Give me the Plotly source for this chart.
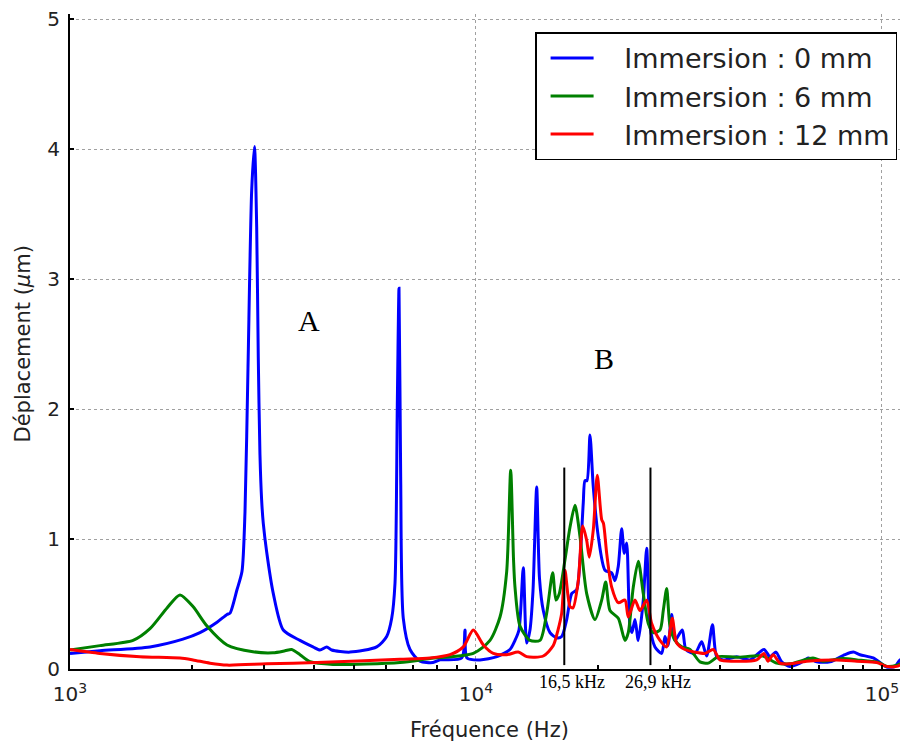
import math
import plotly.graph_objects as go

# ---------------- data (frequency in Hz, displacement in µm) ----------------
f_blue = [1000, 1185, 1574, 1898, 2090, 2302, 2436, 2478, 2578, 2652, 2698, 2744,
          2802, 2847, 2883, 2909, 2937, 2965, 2993, 3051, 3168, 3352, 3685, 3967, 4128,
          4288, 4412, 4894, 5694, 6026, 6200, 6317, 6400, 6462, 6524, 6621, 6878,
          7279, 7836, 8154, 9221, 9395, 9502, 10229, 11265, 12126, 12476, 12761,
          13077, 13331, 13583, 13816, 14109, 14335, 14647, 15215, 15804, 16259,
          16726, 17207, 17702, 18036, 18377, 18555, 18767, 19089, 19450, 20009,
          20783, 21588, 21996, 22412, 22848, 23188, 23505, 23950, 24223, 24639,
          25104, 25826, 26329, 26826, 27598, 28667, 29208, 29710, 30340, 30913,
          32220, 32903, 34626, 35967, 37002, 38239, 39161, 40654, 43866, 47300,
          51209, 52982, 54815, 56616, 59346, 62808, 65836, 69048, 74456, 81072,
          84979, 88270, 95182, 98871, 102702, 107652, 110747, 115889]
d_blue = [0.12, 0.14, 0.17, 0.23, 0.28, 0.36, 0.42, 0.43, 0.61, 0.75, 1.21, 2.31,
          3.68, 4.02, 3.40, 2.40, 1.65, 1.30, 1.12, 0.90, 0.58, 0.30, 0.22, 0.17, 0.146,
          0.17, 0.146, 0.13, 0.17, 0.25, 0.39, 0.66, 2.03, 2.93, 1.48, 0.39, 0.15,
          0.06, 0.05, 0.07, 0.085, 0.30, 0.085, 0.07, 0.095, 0.15, 0.22, 0.30,
          0.78, 0.20, 0.30, 0.60, 1.40, 0.70, 0.45, 0.28, 0.24, 0.25,
          0.38, 0.58, 0.61, 0.84, 1.28, 1.45, 1.45, 1.80, 1.40, 1.02,
          0.76, 0.74, 0.68, 0.79, 1.08, 0.89, 0.97, 0.33, 0.28, 0.38,
          0.22, 0.53, 0.93, 0.33, 0.17, 0.12, 0.25, 0.18, 0.42, 0.22,
          0.30, 0.15, 0.12, 0.21, 0.10, 0.34, 0.095, 0.07, 0.095, 0.07,
          0.15, 0.095, 0.13, 0.055, 0.02, 0.045, 0.085, 0.055, 0.055, 0.11,
          0.13, 0.11, 0.085, 0.05, 0.015, 0.02, 0.07, 0.09]

f_green = [1000, 1185, 1430, 1574, 1734, 1866, 2009, 2175, 2436, 2823, 3162, 3385,
           3516, 3685, 3901, 4444, 6499, 7704, 9848, 10826, 11458, 11902, 12175,
           12370, 12476, 12834, 13583, 14376, 14933, 15449, 15741, 16038, 16565,
           17042, 17531, 18036, 18735, 19638, 20398, 20867, 21380, 22412, 23281,
           23719, 24402, 25104, 25826, 26569, 27333, 28392, 28928, 29491, 30049,
           30913, 32111, 33658, 35620, 37339, 39518, 43866, 50920, 55033, 59346,
           67616, 71564, 80157, 86780, 98178, 102877, 108880, 115889]
d_green = [0.146, 0.18, 0.22, 0.31, 0.47, 0.57, 0.48, 0.33, 0.185, 0.133, 0.125, 0.14,
           0.15, 0.11, 0.056, 0.035, 0.05, 0.08, 0.12, 0.22, 0.40, 0.75, 1.53,
           0.85, 0.63, 0.33, 0.22, 0.22, 0.43, 0.74, 0.53, 0.58, 0.84,
           1.09, 1.26, 1.02, 0.58, 0.38, 0.53, 0.67, 0.45, 0.39, 0.22,
           0.28, 0.63, 0.83, 0.58, 0.35, 0.28, 0.30, 0.45, 0.62, 0.33,
           0.22, 0.17, 0.15, 0.055, 0.045, 0.095, 0.09, 0.10, 0.045, 0.04,
           0.085, 0.06, 0.08, 0.07, 0.05, 0.02, 0.03, 0.07]

f_red = [1000, 1185, 1487, 1866, 2009, 2212, 2436, 3051, 4059, 6499, 7704, 8630,
         9305, 9848, 10423, 11031, 11902, 12711, 13331, 14647, 15502, 15921, 16259,
         16565, 17042, 17335, 17863, 18315, 18735, 19013, 19450, 19895, 20398,
         20607, 20985, 21588, 22412, 23281, 23719, 24639, 25347, 26329, 27087,
         28392, 29491, 30443, 31211, 32717, 34626, 36643, 38413, 39901, 42953,
         49132, 51209, 52384, 53983, 56073, 59346, 65240, 77244, 86633, 97036,
         102702, 108700, 115889]
d_red = [0.15, 0.12, 0.095, 0.085, 0.07, 0.045, 0.03, 0.04, 0.05, 0.075, 0.085, 0.11,
         0.17, 0.30, 0.185, 0.12, 0.11, 0.13, 0.095, 0.10, 0.18, 0.30, 0.43,
         0.76, 0.48, 0.47, 0.68, 1.10, 0.99, 0.86, 1.07, 1.49, 1.15,
         1.12, 0.89, 0.63, 0.51, 0.53, 0.40, 0.53, 0.45, 0.53, 0.35,
         0.22, 0.17, 0.39, 0.20, 0.15, 0.13, 0.12, 0.15, 0.07, 0.06,
         0.07, 0.12, 0.06, 0.11, 0.045, 0.04, 0.06, 0.07, 0.06, 0.05,
         0.02, 0.02, 0.06]

series_names = ["Immersion : 0 mm", "Immersion : 6 mm", "Immersion : 12 mm"]
series_colors = ["#0000ff", "#008000", "#ff0000"]

marker_freqs = [16500, 26900]
marker_labels = ["16,5 kHz", "26,9 kHz"]
marker_span = [0.03, 1.55]

y_ticks = [0, 1, 2, 3, 4, 5]
x_major = [1000, 10000, 100000]
x_minor = [2000, 3000, 4000, 5000, 6000, 7000, 8000, 9000,
           20000, 30000, 40000, 50000, 60000, 70000, 80000, 90000]

zone_labels = ["A", "B"]
zone_freqs = [3878, 20670]
zone_vals = [2.68, 2.39]

# ---------------- figure ----------------
fig = go.Figure()
for fx, dy, nm, col in zip([f_blue, f_green, f_red], [d_blue, d_green, d_red],
                           series_names, series_colors):
    fig.add_trace(go.Scatter(x=fx, y=dy, mode="lines",
                             name="\u00a0\u00a0\u00a0" + nm,
                             line=dict(color=col, width=3, shape="spline", smoothing=0.7)))

for fr in marker_freqs:
    fig.add_trace(go.Scatter(x=[fr, fr], y=marker_span, mode="lines",
                             line=dict(color="black", width=2),
                             showlegend=False, hoverinfo="skip"))

grid = dict(showgrid=True, gridcolor="#a0a0a0", griddash="dot", gridwidth=1)

# the page body adds an 8px offset; the figure is sized to fill the window.
# y range slightly above 5 so that the top grid line is drawn inside the plot.
fig.update_layout(
    width=900, height=734,
    margin=dict(l=62, r=0, t=5.8, b=73),
    paper_bgcolor="white", plot_bgcolor="white",
    font=dict(family="DejaVu Sans", color="#222222"),
    showlegend=True,
    legend=dict(x=0.555, y=0.972, xanchor="left", yanchor="top",
                bgcolor="white", bordercolor="black", borderwidth=1.5,
                font=dict(size=27, family="DejaVu Sans", color="#222222"),
                tracegroupgap=0, itemwidth=43, indentation=9),
    xaxis=dict(type="log", range=[3, 5.0641],
               tickmode="array", tickvals=x_major,
               ticktext=["10<sup>3</sup>", "10<sup>4</sup>", "10<sup>5</sup>"],
               ticks="inside", ticklen=4, tickwidth=2, tickcolor="black",
               minor=dict(tickmode="array", tickvals=x_minor, ticks="inside",
                          ticklen=4, tickwidth=2, tickcolor="black", showgrid=False),
               showline=True, linecolor="black", linewidth=2, mirror=False,
               zeroline=False, tickfont=dict(size=20, color="#222222"),
               ticklabelstandoff=6, ticklabeloverflow="allow", **grid),
    yaxis=dict(range=[0, 5.04], tickmode="array", tickvals=y_ticks,
               ticks="inside", ticklen=4, tickwidth=2, tickcolor="black",
               showline=True, linecolor="black", linewidth=2, mirror=False,
               zeroline=False, tickfont=dict(size=20, color="#222222"),
               ticklabelstandoff=4, ticklabeloverflow="allow", **grid),
)

fig.add_annotation(text="Déplacement (<i>μ</i>m)", xref="paper", yref="paper",
                   x=-0.0556, y=0.496, textangle=-90, showarrow=False,
                   xanchor="center", yanchor="middle",
                   font=dict(size=21, color="#222222"))
fig.add_annotation(text="Fréquence (Hz)", xref="paper", yref="paper",
                   x=0.5, y=-0.093, showarrow=False, xanchor="center", yanchor="middle",
                   font=dict(size=21, color="#222222"))

for t, fx, vy in zip(zone_labels, zone_freqs, zone_vals):
    fig.add_annotation(text=t, x=math.log10(fx), y=vy, showarrow=False,
                       font=dict(family="Liberation Serif", size=30, color="black"))

for fr, lab in zip(marker_freqs, marker_labels):
    fig.add_annotation(text=lab, x=math.log10(fr), y=0, yshift=-13, showarrow=False,
                       xanchor="center", yanchor="middle", xshift=8,
                       font=dict(family="Liberation Serif", size=18, color="black"))

fig.write_html("out.html")
